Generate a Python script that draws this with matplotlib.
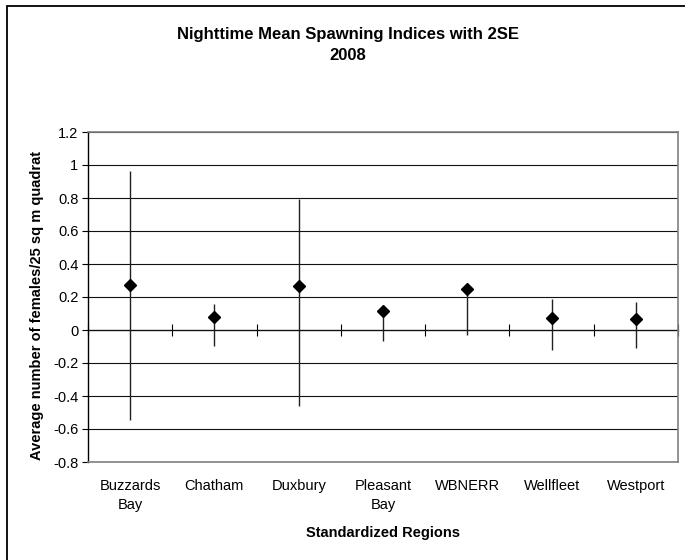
import matplotlib
matplotlib.use("Agg")
import matplotlib.pyplot as plt
from matplotlib.patches import Rectangle
import numpy as np

plt.rcParams['font.family'] = ['Liberation Sans', 'DejaVu Sans']
plt.rcParams['axes.unicode_minus'] = False

categories = ["Buzzards\nBay", "Chatham", "Duxbury", "Pleasant\nBay", "WBNERR", "Wellfleet", "Westport"]
means = [0.27, 0.08, 0.265, 0.115, 0.25, 0.075, 0.065]
lows = [-0.543, -0.098, -0.46, -0.068, -0.033, -0.124, -0.108]
highs = [0.965, 0.155, 0.795, 0.13, 0.26, 0.189, 0.171]
yticks = [-0.8, -0.6, -0.4, -0.2, 0, 0.2, 0.4, 0.6, 0.8, 1, 1.2]

W, H = 685, 560
fig = plt.figure(figsize=(W / 100, H / 100), dpi=100)
ax = fig.add_axes([88 / W, 1 - 462 / H, (678 - 88) / W, (462 - 132) / H])

x = np.arange(len(categories))
means_a = np.array(means)
yerr = np.vstack([means_a - np.array(lows), np.array(highs) - means_a])

ymin, ymax = yticks[0], yticks[-1]
ax.set_ylim(ymin, ymax)
ax.set_xlim(-0.5, len(categories) - 0.5)
ax.set_yticks(yticks)
ax.set_yticklabels(["%g" % t for t in yticks])
ax.yaxis.grid(True, color='#111111', linewidth=0.8)
ax.set_axisbelow(True)

ax.errorbar(x, means, yerr=yerr, fmt='D', color='black', ecolor='#202020',
            elinewidth=1.0, capsize=0, markersize=6.2, zorder=3)

ax.set_xticks(x)
ax.set_xticklabels(categories, fontsize=10.5, linespacing=1.5)
ax.tick_params(axis='x', length=0, pad=12)
ax.tick_params(axis='y', direction='out', length=4, width=0.8, labelsize=10.5, pad=3)

for s in ['top', 'right', 'bottom']:
    ax.spines[s].set_color('#808080')
    ax.spines[s].set_linewidth(1.2)
ax.spines['left'].set_color('black')
ax.spines['left'].set_linewidth(1.0)

# zero axis line with category separators
sec = ax.secondary_xaxis((0 - ymin) / (ymax - ymin))
sec.set_xticks(np.arange(len(categories) + 1) - 0.5)
sec.tick_params(direction='inout', length=9, width=0.8, labeltop=False, labelbottom=False)
sec.spines['top'].set_color('black')
sec.spines['top'].set_linewidth(0.9)
sec.spines['bottom'].set_color('black')
sec.spines['bottom'].set_linewidth(0.9)

fig.text(348 / W, 1 - 35 / H, "Nighttime Mean Spawning Indices with 2SE", ha='center', va='center',
         fontsize=12, fontweight='bold')
fig.text(348 / W, 1 - 55 / H, "2008", ha='center', va='center', fontsize=12, fontweight='bold')
fig.text(383 / W, 1 - 533 / H, "Standardized Regions", ha='center', va='center',
         fontsize=10.5, fontweight='bold')
fig.text(37 / W, 1 - 306 / H, "Average number of females/25 sq m quadrat", ha='center', va='center',
         rotation=90, fontsize=10.5, fontweight='bold')

fig.patches.append(Rectangle((7 / W, -0.1), 1.2, 1 - 5.5 / H + 0.1, transform=fig.transFigure,
                             fill=False, edgecolor='black', linewidth=1.3))

fig.savefig("out.png", dpi=100)
